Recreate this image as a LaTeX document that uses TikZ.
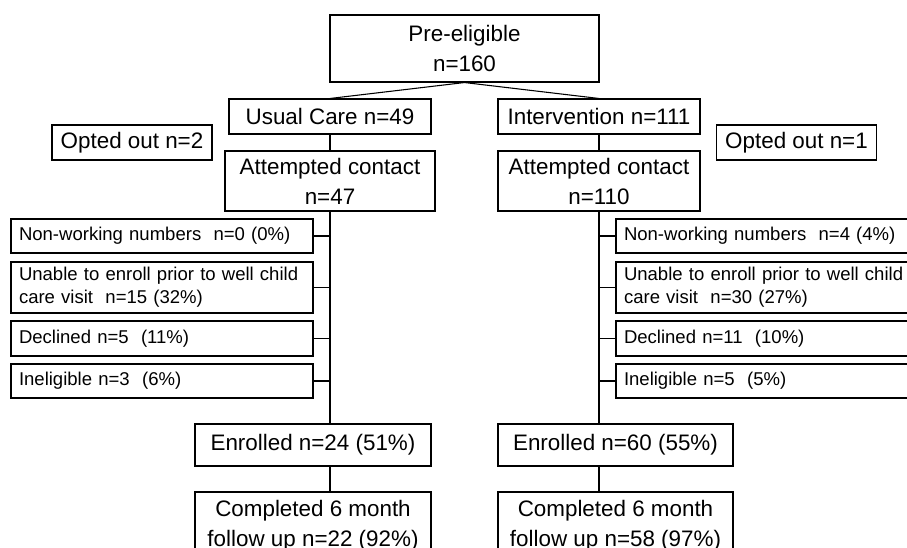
\documentclass[tikz,border=0pt]{standalone}
\usepackage{fontspec}
\setmainfont{Liberation Sans}
\usepackage{tikz}
\usetikzlibrary{positioning}

\begin{document}
\begin{tikzpicture}[
    % GLOBAL CFG
    x=0.75pt, y=-0.75pt,
    line width=0.8pt,
    % Styles
    box/.style={% For the main boxes
        rectangle,
        draw,
        align=center,
        inner sep=0pt,
        font=\fontsize{16.8}{22.5}\selectfont,
        },
    excl/.style={% For the exclusion boxes
        rectangle,
        draw,
        align=left,
        inner xsep=6pt,
        inner ysep=0pt,
        text width=214.5pt,
        font=\fontsize{13.9}{17.5}\selectfont,
        },
    link/.style={% Plain connectors
        draw,
        },
    ]

    \clip (0,0) rectangle (907,547);

    % Draw the top boxes
    \node [box, minimum width=201.75pt, minimum height=50.25pt] (pre) at (464.5,48.5) {Pre-eligible\\n=160};
    \node [box, minimum width=151.5pt, minimum height=26.25pt] (usual) at (330,116.5) {Usual Care n=49};
    \node [box, minimum width=151.5pt, minimum height=26.25pt] (interv) at (599,116.5) {Intervention n=111};
    \node [box, minimum width=120pt, minimum height=26.25pt] (optL) at (132,142.5) {Opted out n=2};
    \node [box, minimum width=120pt, minimum height=26.25pt] (optR) at (796.5,142.5) {Opted out n=1};
    \node [box, minimum width=157.5pt, minimum height=45pt] (attL) at (330,181) {Attempted contact\\n=47};
    \node [box, minimum width=151.5pt, minimum height=45pt] (attR) at (599,181) {Attempted contact\\n=110};

    % Exclusions named nw#, un#, dec#, ine#
    \node [excl, minimum height=25.5pt] (nwL) at (162,236) {Non-working numbers~~n=0 (0\%)};
    \node [excl, minimum height=38.25pt] (unL) at (162,287.5) {Unable to enroll prior to well child\\care visit~~n=15 (32\%)};
    \node [excl, minimum height=26.25pt] (decL) at (162,338.5) {Declined n=5~~(11\%)};
    \node [excl, minimum height=25.5pt] (ineL) at (162,381) {Ineligible n=3~~(6\%)};

    \node [excl, minimum height=25.5pt] (nwR) at (767,236) {Non-working numbers~~n=4 (4\%)};
    \node [excl, minimum height=38.25pt] (unR) at (767,287.5) {Unable to enroll prior to well child\\care visit~~n=30 (27\%)};
    \node [excl, minimum height=26.25pt] (decR) at (767,338.5) {Declined n=11~~(10\%)};
    \node [excl, minimum height=25.5pt] (ineR) at (767,381) {Ineligible n=5~~(5\%)};

    % Bottom boxes
    \node [box, minimum width=177pt, minimum height=31.5pt] (enrL) at (313,445) {Enrolled n=24 (51\%)};
    \node [box, minimum width=176.25pt, minimum height=31.5pt] (enrR) at (615.5,445) {Enrolled n=60 (55\%)};
    \node [box, minimum width=177pt, minimum height=51pt] (compL) at (313,526) {Completed 6 month\\follow up n=22 (92\%)};
    \node [box, minimum width=176.25pt, minimum height=51pt] (compR) at (615.5,526) {Completed 6 month\\follow up n=58 (97\%)};

    % Start connecting all.
    \draw [link] (usual.north) -- (pre.south) -- (interv.north);
    \draw [link] (usual) -- (attL);
    \draw [link] (interv) -- (attR);

    % Trunks
    \draw [link] (attL.south) -- (attL.south |- enrL.north);
    \draw [link] (attL.south |- enrL.south) -- (attL.south |- compL.north);
    \draw [link] (attR.south) -- (attR.south |- enrR.north);
    \draw [link] (attR.south |- enrR.south) -- (attR.south |- compR.north);

    % Ticks
    \foreach \n in {nwL, unL, decL, ineL}
        \draw [link] (\n.east) -- (\n.east -| attL.south);
    \foreach \n in {nwR, unR, decR, ineR}
        \draw [link] (\n.west) -- (\n.west -| attR.south);

\end{tikzpicture}
\end{document}
